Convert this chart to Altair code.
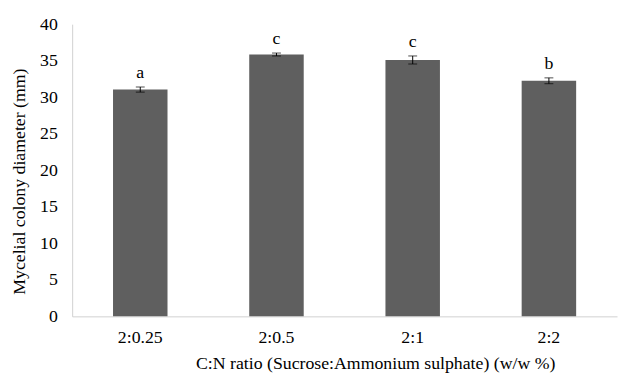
import altair as alt
import pandas as pd

categories = ["2:0.25", "2:0.5", "2:1", "2:2"]
means = [31.05, 35.85, 35.1, 32.25]
errors = [0.35, 0.2, 0.55, 0.4]
letters = ["a", "c", "c", "b"]
y_ticks = [0, 5, 10, 15, 20, 25, 30, 35, 40]

df = pd.DataFrame({
    "cat": categories,
    "mean": means,
    "err": errors,
    "letter": letters,
})
df["lo"] = df["mean"] - df["err"]
df["hi"] = df["mean"] + df["err"]

FONT = "Liberation Serif"
XTITLE = "C:N ratio (Sucrose:Ammonium sulphate) (w/w %)"
YTITLE = "Mycelial colony diameter (mm)"

xaxis = alt.Axis(title=XTITLE, labelAngle=0, ticks=False, labelPadding=21,
                 labelBaseline="middle",
                 titleX=307, titleY=48, titleBaseline="middle", titleAlign="center",
                 domainColor="#d0d0d0")
yaxis = alt.Axis(title=YTITLE, values=y_ticks, labelOverlap=False,
                 grid=False, ticks=False, labelPadding=15,
                 titleX=-53, titleY=159, titleBaseline="middle", titleAlign="center",
                 domainColor="#d0d0d0")
xscale = alt.Scale(paddingInner=0.6, paddingOuter=0.3)
yscale = alt.Scale(domain=[0, 40])


def X():
    return alt.X("cat:N", sort=categories, scale=xscale, axis=xaxis, title=XTITLE)


bars = alt.Chart(df).mark_bar(color="#5f5f5f").encode(
    x=X(), y=alt.Y("mean:Q", scale=yscale, axis=yaxis, title=YTITLE))

errbars = alt.Chart(df).mark_errorbar(ticks=alt.MarkConfig(size=9, color="black"), color="black").encode(
    x=X(),
    y=alt.Y("lo:Q", scale=yscale, axis=yaxis, title=YTITLE),
    y2="hi:Q",
)

text = alt.Chart(df).mark_text(dy=-9, baseline="alphabetic", fontSize=18, font=FONT, color="black").encode(
    x=X(),
    y=alt.Y("hi:Q", scale=yscale, axis=yaxis, title=YTITLE),
    text="letter:N",
)

chart = alt.layer(bars, errbars, text).properties(
    width=552, height=296,
    autosize=alt.AutoSizeParams(type="none"),
    padding={"left": 65, "top": 14, "right": 1, "bottom": 56},
).configure_axis(
    labelFont=FONT, titleFont=FONT, labelFontSize=18, titleFontSize=18,
    labelColor="black", titleColor="black", titleFontWeight="normal",
).configure_view(stroke=None)

chart.save("out.html", embed_options={"renderer": "svg", "actions": False})
